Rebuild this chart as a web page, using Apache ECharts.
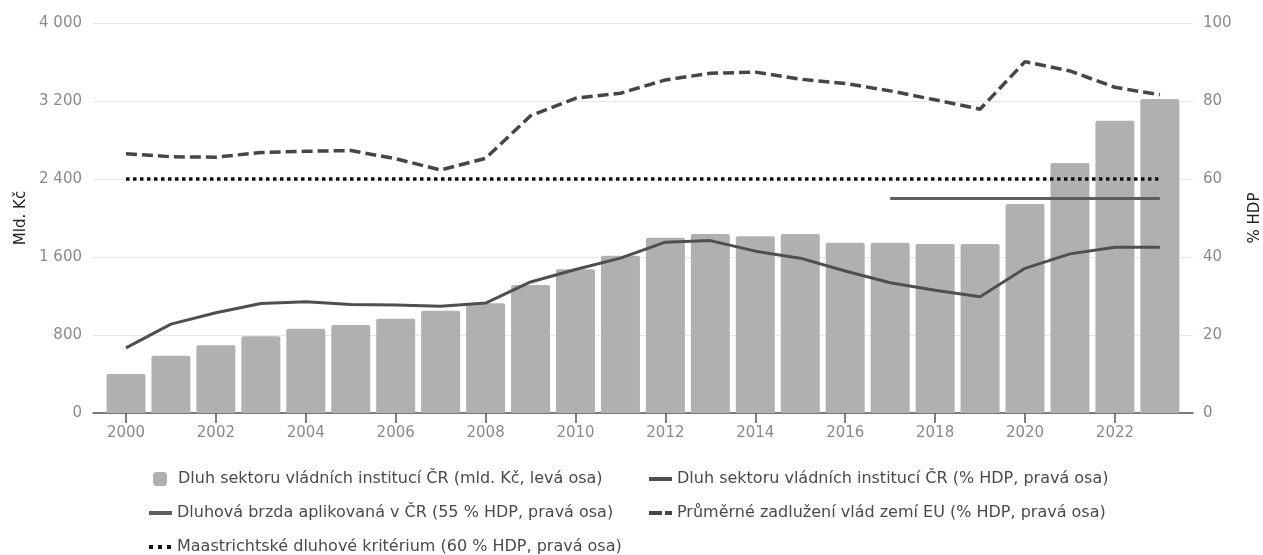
<!DOCTYPE html>
<html>
<head>
<meta charset="utf-8">
<script src="https://cdn.jsdelivr.net/npm/echarts@6/dist/echarts.min.js"></script>
<style>html,body{margin:0;padding:0;background:#fff}#c{width:1263px;height:555px}</style>
</head>
<body>
<div id="c"></div>
<script>
const years = [2000,2001,2002,2003,2004,2005,2006,2007,2008,2009,2010,2011,2012,2013,2014,2015,2016,2017,2018,2019,2020,2021,2022,2023];
const debtBn = [400,588,694,787,865,903,967,1048,1125,1313,1474,1613,1798,1836,1812,1836,1747,1747,1733,1733,2144,2564,2998,3221];
const debtPct = [16.7,22.8,25.7,28.1,28.5,27.8,27.7,27.4,28.2,33.6,36.8,39.7,43.8,44.2,41.5,39.7,36.4,33.4,31.5,29.8,37.1,40.8,42.5,42.5];
const euAvg = [66.5,65.7,65.6,66.8,67.1,67.3,65.2,62.3,65.3,76.2,80.7,82.0,85.4,87.1,87.4,85.6,84.5,82.6,80.3,77.9,90.1,87.7,83.5,81.6];
const brakeYears = [2017,2018,2019,2020,2021,2022,2023];
const brakeVal = 55;
const maastrichtVal = 60;
const xTicks = [2000,2002,2004,2006,2008,2010,2012,2014,2016,2018,2020,2022];

const names = [
  'Dluh sektoru vládních institucí ČR (mld. Kč, levá osa)',
  'Dluh sektoru vládních institucí ČR (% HDP, pravá osa)',
  'Dluhová brzda aplikovaná v ČR (55 % HDP, pravá osa)',
  'Průměrné zadlužení vlád zemí EU (% HDP, pravá osa)',
  'Maastrichtské dluhové kritérium (60 % HDP, pravá osa)'
];
const FONT = 'DejaVu Sans';
function fmt(v){ return v >= 1000 ? String(v).replace(/\B(?=(\d{3})+(?!\d))/g, ' ') : String(v); }

const chart = echarts.init(document.getElementById('c'), null, {renderer:'canvas'});
const legTxt = {fontFamily: FONT, fontSize: 16, color: '#4a4a4a'};
const ICON_SOLID = 'path://M0,0H23V4H0Z';
const ICON_DASH = 'path://M0,0H13V4H0Z M16,0H23V4H16Z';
const ICON_DOT = 'path://M0,0H4V4H0Z M9,0H13V4H9Z M18,0H22V4H18Z';
function leg(name, icon, color, left, top, w, h, pad){
  return {data:[{name:name, icon:icon}], left:left, top:top, itemWidth:w, itemHeight:h, itemGap:0, padding:0,
    itemStyle:{color:color, borderWidth:0}, lineStyle:{width:0, opacity:0},
    textStyle:Object.assign({}, legTxt, {padding:[0,0,0,pad]}), selectedMode:false};
}
chart.setOption({
  animation:false,
  grid:{left:93, right:70, top:23, bottom:142, containLabel:false, outerBoundsMode:'none'},
  legend:[
    leg(names[0], 'roundRect', '#b0b0b0', 153, 471, 14, 14, 6),
    leg(names[1], ICON_SOLID, '#4f4f4f', 649, 471, 23, 4, 0),
    leg(names[2], ICON_SOLID, '#5e5e5e', 149, 505, 23, 4, 0),
    leg(names[3], ICON_DASH, '#464646', 649, 505, 23, 4, 0),
    leg(names[4], ICON_DOT, '#111', 149, 539, 22, 4, 1)
  ],
  xAxis:{
    type:'value', min:1999.266, max:2023.737,
    axisLine:{show:true, lineStyle:{color:'#555', width:1.5}},
    axisTick:{show:true, length:10, customValues:xTicks, lineStyle:{color:'#555', width:1.5}},
    axisLabel:{customValues:xTicks, margin:13, color:'#8a8a8a', fontFamily:FONT, fontSize:15, formatter:v=>String(v)},
    splitLine:{show:false}
  },
  yAxis:[
    {type:'value', min:0, max:4000, interval:800,
     name:'Mld. Kč', nameLocation:'middle', nameGap:63,
     nameTextStyle:{color:'#222', fontFamily:FONT, fontSize:15},
     axisLine:{show:false}, axisTick:{show:false},
     axisLabel:{color:'#8a8a8a', fontFamily:FONT, fontSize:15, margin:11, formatter:fmt},
     splitLine:{show:true, lineStyle:{color:'#e6e6e6', width:1}}
    },
    {type:'value', min:0, max:100, interval:20, position:'right',
     name:'% HDP', nameLocation:'middle', nameGap:55,
     nameTextStyle:{color:'#222', fontFamily:FONT, fontSize:15},
     axisLine:{show:false}, axisTick:{show:false},
     axisLabel:{color:'#8a8a8a', fontFamily:FONT, fontSize:15, margin:10},
     splitLine:{show:false}
    }
  ],
  series:[
    {name:names[0], type:'bar', yAxisIndex:0, barWidth:39, z:1,
     itemStyle:{color:'#b0b0b0', borderRadius:[2,2,0,0]},
     data: years.map((y,i)=>[y, debtBn[i]])},
    {name:names[1], type:'line', yAxisIndex:1, symbol:'none', z:5,
     lineStyle:{color:'#4f4f4f', width:3}, itemStyle:{color:'#4f4f4f'},
     data: years.map((y,i)=>[y, debtPct[i]])},
    {name:names[2], type:'line', yAxisIndex:1, symbol:'none', z:5,
     lineStyle:{color:'#5e5e5e', width:3}, itemStyle:{color:'#5e5e5e'},
     data: brakeYears.map(y=>[y, brakeVal])},
    {name:names[3], type:'line', yAxisIndex:1, symbol:'none', z:5,
     lineStyle:{color:'#464646', width:3.5, type:[11,5]}, itemStyle:{color:'#464646'},
     data: years.map((y,i)=>[y, euAvg[i]])},
    {name:names[4], type:'line', yAxisIndex:1, symbol:'none', z:6,
     lineStyle:{color:'#111', width:3.5, type:[3.5,3.5]}, itemStyle:{color:'#111'},
     data: years.map(y=>[y, maastrichtVal])}
  ]
});
</script>
</body>
</html>
